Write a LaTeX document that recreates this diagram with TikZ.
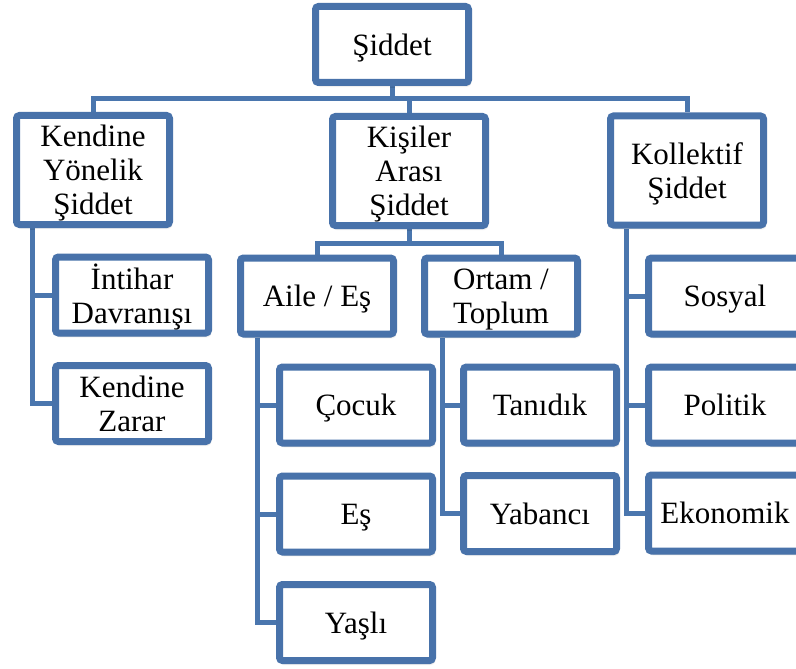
\documentclass[tikz,border=0pt]{standalone}
\usepackage{fontspec}
\setmainfont{Liberation Serif}
\usetikzlibrary{backgrounds,shadows.blur}

\definecolor{boxblue}{HTML}{4872AA}
\definecolor{linkblue}{HTML}{4A76AE}

% centred lines of box text, set a little below the geometric centre
% (the box keeps its natural height and depth, so only the ink moves)
\newcommand{\celltext}[1]{\raisebox{-4pt}[\height][\depth]{\begin{tabular}{@{}c@{}}#1\end{tabular}}}

\tikzset{
  box/.style={draw=boxblue, line width=7pt, fill=white, rounded corners=3pt,
    minimum width=153pt, minimum height=76pt, inner sep=0pt,
    font=\fontsize{31}{34}\selectfont,
    blur shadow={shadow blur steps=6, shadow xshift=1.5pt, shadow yshift=-3pt, shadow opacity=28}},
  tallbox/.style={box, minimum height=109pt},
  conn/.style={draw=linkblue, line width=5pt}
}

\begin{document}
\begin{tikzpicture}[x=1pt, y=-1pt]
  \useasboundingbox (0,0) rectangle (796,669);
  \clip (0,0) rectangle (796,669);

  % top level
  \node[box] (root) at (392,44.5) {\celltext{Şiddet}};

  % three kinds of violence
  \node[tallbox] (k1) at (93,170)    {\celltext{Kendine\\Yönelik\\Şiddet}};
  \node[tallbox] (k2) at (409,171)   {\celltext{Kişiler\\Arası\\Şiddet}};
  \node[tallbox] (k3) at (687,170.5) {\celltext{Kollektif\\Şiddet}};

  % self-directed
  \node[box] (ki) at (132,295)   {\celltext{İntihar\\Davranışı}};
  \node[box] (kz) at (132,403.5) {\celltext{Kendine\\Zarar}};

  % interpersonal
  \node[box] (ai) at (317,296)   {\celltext{Aile / Eş}};
  \node[box] (ot) at (501,296)   {\celltext{Ortam /\\Toplum}};
  \node[box] (co) at (356,405)   {\celltext{Çocuk}};
  \node[box] (es) at (356,514)   {\celltext{Eş}};
  \node[box] (ya) at (356,622.5) {\celltext{Yaşlı}};
  \node[box] (ta) at (540,405)   {\celltext{Tanıdık}};
  \node[box] (yb) at (540,513.5) {\celltext{Yabancı}};

  % collective
  \node[box] (so) at (725,296) {\celltext{Sosyal}};
  \node[box] (po) at (725,405) {\celltext{Politik}};
  \node[box] (ek) at (725,513) {\celltext{Ekonomik}};

  \coordinate (bar)  at (392,99);
  \coordinate (bar2) at (409,243);
  \coordinate (kx) at (32,0);
  \coordinate (ax) at (257,0);
  \coordinate (ox) at (442,0);
  \coordinate (cx) at (626,0);

  \begin{scope}[on background layer]
    % root to first level
    \draw[conn] (root.south) -- (bar);
    \draw[conn] (k1.north) |- (bar) -| (k3.north);
    \draw[conn] (bar -| k2.north) -- (k2.north);
    % self-directed branch
    \draw[conn] (k1.south -| kx) |- (kz.west);
    \draw[conn] (kx |- ki.west) -- (ki.west);
    % interpersonal branch
    \draw[conn] (k2.south) -- (bar2);
    \draw[conn] (ai.north) |- (bar2) -| (ot.north);
    \draw[conn] (ai.south -| ax) |- (ya.west);
    \draw[conn] (ax |- co.west) -- (co.west);
    \draw[conn] (ax |- es.west) -- (es.west);
    \draw[conn] (ot.south -| ox) |- (yb.west);
    \draw[conn] (ox |- ta.west) -- (ta.west);
    % collective branch
    \draw[conn] (k3.south -| cx) |- (ek.west);
    \draw[conn] (cx |- so.west) -- (so.west);
    \draw[conn] (cx |- po.west) -- (po.west);
  \end{scope}
\end{tikzpicture}
\end{document}
